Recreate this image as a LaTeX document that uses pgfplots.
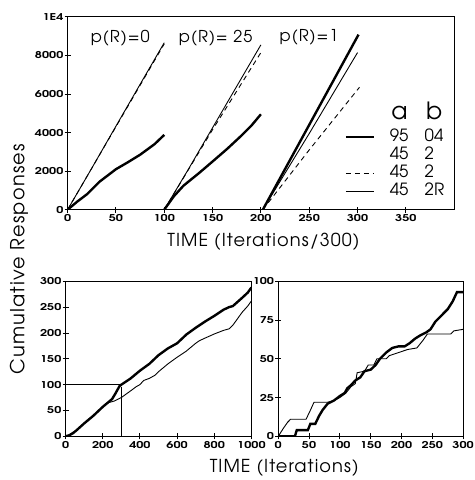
\documentclass[border=0pt]{standalone}
\usepackage{pgfplots}
\pgfplotsset{compat=1.18}
\usepackage{fontspec}
\setmainfont{TeX Gyre Adventor}
\newfontfamily\labelfont[LetterSpace=6]{TeX Gyre Adventor}
\newfontfamily\tickfont[FakeStretch=1.35]{TeX Gyre Adventor}
\begin{document}
\begin{tikzpicture}[x=1bp,y=1bp]
\path (0,0) rectangle (475,-480);
\pgfplotsset{
  every axis/.append style={
    scale only axis,
    axis line style={line width=1.1bp},
    every tick/.style={line width=0.9bp, black},
    major tick length=6bp,
    tick align=center,
    tick pos=left,
    ticklabel style={font=\tickfont\fontsize{9.5}{10}\selectfont\bfseries},
    /pgf/number format/assume math mode=true,
    /pgf/number format/1000 sep={},
    xticklabel style={inner sep=1bp, yshift=-1bp},
    yticklabel style={inner sep=1bp},
    scaled ticks=false,
  },
  thickline/.style={line width=2.4bp, black},
  thinline/.style={line width=0.9bp, black},
  dashline/.style={line width=0.9bp, black, dash pattern=on 5bp off 4bp},
}
% ---------------- top panel ----------------
\begin{axis}[
  at={(68bp,-211bp)}, anchor=south west,
  width=389bp, height=194bp,
  xmin=0, xmax=400, ymin=0, ymax=10000,
  xtick={0,50,...,350},
  ytick={0,2000,4000,6000,8000,10000},
  yticklabels={0,2000,4000,6000,8000,1E4},
  legend style={draw=none, fill=none, inner sep=0pt, outer sep=0pt,
    at={(axis description cs:0.717,0.4227)}, anchor=north west,
    row sep=0pt, column sep=15bp,
    font=\fontsize{17}{19}\selectfont,
    nodes={inner sep=0pt, text height=13bp, text depth=5.3bp}},
  legend cell align=left,
  legend image code/.code={\draw[#1] (0bp,0bp) -- (28bp,0bp);},
]
% p(R)=0
\addplot[dashline, forget plot] coordinates {(0,0) (100,8600)};
\addplot[thinline, forget plot] coordinates {(0,0) (25,2150) (50,4330) (75,6500) (100,8660)};
\addplot[thickline, forget plot] coordinates {(0,0) (10,420) (20,800) (33,1450) (50,2100) (62,2450) (75,2850) (90,3400) (100,3880)};
% p(R)=25
\addplot[dashline, forget plot] coordinates {(100,0) (150,4150) (200,8150)};
\addplot[thinline, forget plot] coordinates {(100,0) (125,2100) (150,4250) (175,6400) (200,8550)};
\addplot[thickline, forget plot] coordinates {(100,0) (110,700) (120,1250) (136,1900) (150,2500) (165,3150) (180,3850) (190,4350) (200,4950)};
% p(R)=1
\addplot[dashline, forget plot] coordinates {(202,0) (250,3100) (302,6350)};
\addplot[thinline, forget plot] coordinates {(202,0) (250,3950) (300,8150)};
\addplot[thickline, forget plot] coordinates {(202,0) (250,4400) (301,9080)};
\addlegendimage{thickline}
\addlegendimage{draw opacity=0}
\addlegendimage{dashline}
\addlegendimage{thinline}
\legend{\makebox[35bp][l]{95}04, \makebox[35bp][l]{45}2, \makebox[35bp][l]{45}2, \makebox[35bp][l]{45}2R}
\end{axis}
% ---------------- bottom left ----------------
\begin{axis}[
  at={(66bp,-439bp)}, anchor=south west,
  width=187bp, height=156bp,
  xmin=0, xmax=1000, ymin=0, ymax=300,
  xtick={0,200,...,1000},
  ytick={0,50,...,300},
]
\addplot[thinline] coordinates {(0,100) (300,100)};
\addplot[thinline] coordinates {(300,0) (300,95)};
\addplot[thinline] coordinates {(0,0) (20,3) (40,8) (55,10) (70,16) (100,25) (150,40) (200,57) (230,65) (260,68) (300,75) (350,88) (380,96) (400,100) (420,108) (450,112) (480,118) (500,125) (550,140) (600,153) (650,165) (700,180) (720,185) (750,190) (800,198) (850,205) (880,208) (900,215) (950,240) (980,252) (1000,262)};
\addplot[thickline] coordinates {(0,0) (20,2) (40,6) (60,12) (100,25) (150,40) (200,57) (250,72) (270,84) (290,97) (300,100) (350,112) (400,127) (450,140) (500,157) (550,170) (600,180) (650,197) (700,210) (750,222) (800,233) (850,245) (880,250) (900,252) (950,268) (980,278) (1000,288)};
\end{axis}
% ---------------- bottom right ----------------
\begin{axis}[
  at={(280bp,-439bp)}, anchor=south west,
  width=186bp, height=156bp,
  xmin=0, xmax=300, ymin=0, ymax=100,
  xtick={0,50,...,300},
  ytick={0,25,...,100},
]
\addplot[thinline] coordinates {(0,0) (8,5) (15,9) (20,11) (45,11) (50,15) (58,22) (80,22) (90,23) (100,25) (110,28) (118,32) (125,34) (128,41) (140,42) (146,46) (155,46) (160,50) (175,50) (180,52) (195,54) (210,56) (225,57) (235,62) (242,66) (280,66) (285,68) (300,69)};
\addplot[thickline] coordinates {(0,0) (27,0) (30,4) (48,4) (52,8) (60,8) (66,13) (72,17) (80,21) (90,23) (100,26) (108,28) (112,31) (118,33) (125,36) (133,38) (140,42) (150,43) (158,46) (165,50) (175,54) (185,57) (195,58) (205,58) (213,60) (222,63) (230,65) (240,67) (247,69) (255,74) (265,78) (275,82) (283,87) (290,93) (300,93)};
\end{axis}
% ---------------- texts ----------------
\node[font=\labelfont\fontsize{16.5}{18}\selectfont] at (121,-38) {p(R)=0};
\node[font=\labelfont\fontsize{16.5}{18}\selectfont] at (217,-38) {p(R)= 25};
\node[font=\labelfont\fontsize{16.5}{18}\selectfont] at (311,-38) {p(R)=1};
\node[font=\fontsize{24}{26}\selectfont, anchor=base, inner sep=0pt] at (402,-120) {a};
\node[font=\fontsize{24}{26}\selectfont, anchor=base, inner sep=0pt] at (437,-120) {b};
\node[font=\labelfont\fontsize{18}{20}\selectfont] at (265,-243) {TIME (Iterations/300)};
\node[font=\labelfont\fontsize{18}{20}\selectfont] at (286,-471) {TIME (Iterations)};
\node[rotate=90, font=\labelfont\fontsize{19.5}{21}\selectfont] at (19,-261) {Cumulative Responses};
\end{tikzpicture}
\end{document}
